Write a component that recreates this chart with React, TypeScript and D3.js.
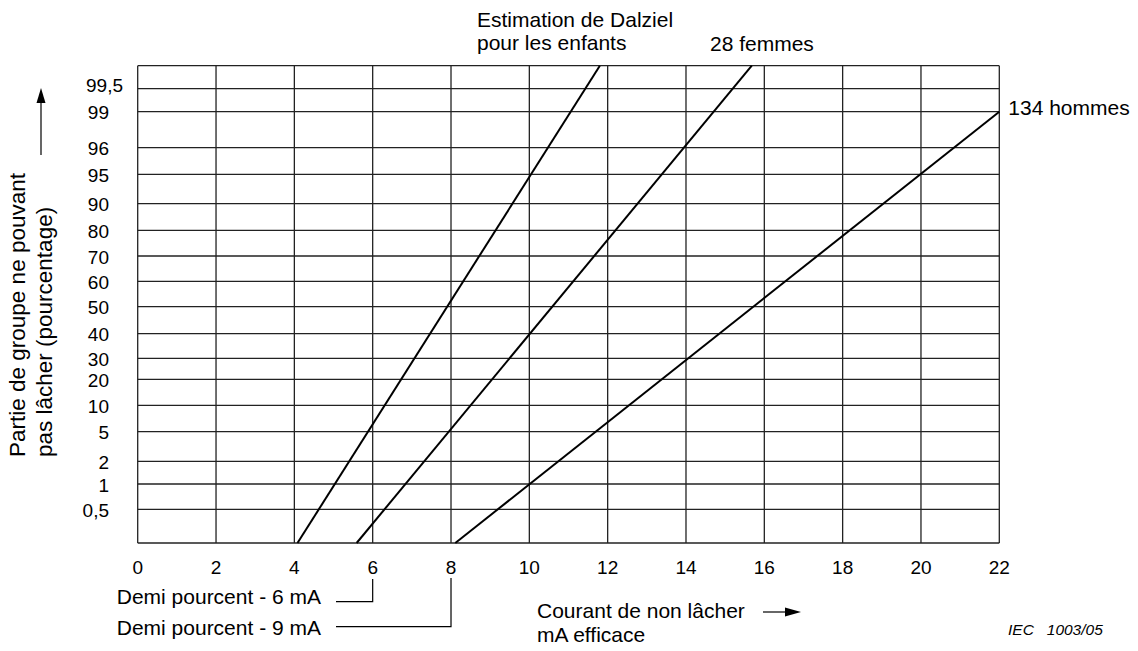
import * as d3 from "d3";

// Percent levels of the grid (probability paper rows) and the x ticks (mA)
const yLevels = [0.5, 1, 2, 5, 10, 20, 30, 40, 50, 60, 70, 80, 90, 95, 96, 99, 99.5];
const xTicks = [0, 2, 4, 6, 8, 10, 12, 14, 16, 18, 20, 22];

// Straight lines: current (mA) and level (%) at both ends. 0 / 100 = plot edges.
const seriesNames = ["Estimation de Dalziel pour les enfants", "28 femmes", "134 hommes"];
const startCurrent = [4.08, 5.59, 8.11];
const startLevel = [0, 0, 0];
const endCurrent = [11.8, 15.68, 22];
const endLevel = [100, 100, 99];

// Half-percent markers on the x axis
const halfPercentLabels = ["Demi pourcent - 6 mA", "Demi pourcent - 9 mA"];
const halfPercentCurrent = [6, 8];

const W = 1138;
const H = 651;
const plot = { left: 137.7, right: 999.3, top: 65.7, bottom: 543 };
// the rows of this chart paper are hand spaced, so the y scale is polylinear
const rowOffsets = [0, 33.7, 59, 81.7, 111.3, 137.7, 163.7, 184.7, 209.3, 236.3, 261.7, 287, 312.7, 339.3, 368.7, 395.3, 431.3, 454.3, 477.3];

const font = "'Liberation Sans', Arial, sans-serif";
const FS = 21; // annotations
const TS = 19; // tick labels

const locale = d3.formatLocale({ decimal: ",", thousands: " ", grouping: [3], currency: ["", ""] });
const fmt = (v: number) => locale.format("~g")(v);

export default function App() {
  const x = d3.scaleLinear().domain([0, 22]).range([plot.left, plot.right]);
  const y = d3
    .scaleLinear()
    .domain([0, ...yLevels, 100])
    .range(rowOffsets.map((o) => plot.bottom - o));

  const line = d3
    .line<[number, number]>()
    .x((d) => x(d[0]))
    .y((d) => y(d[1]));

  const grid = "#222";
  const leaderY = [601.7, 626.7];
  const leaderTop = [579, 578];
  const labelBase = [604, 635];

  return (
    <div style={{ position: "absolute", left: 0, top: 0 }}>
      <svg width={W} height={H} style={{ display: "block", background: "#fff" }} fontFamily={font}>
        {/* horizontal grid */}
        {[0, ...yLevels, 100].map((v) => (
          <line key={`h${v}`} x1={plot.left} x2={plot.right} y1={y(v)} y2={y(v)} stroke={grid} strokeWidth={1.3} />
        ))}
        {/* vertical grid */}
        {xTicks.map((t) => (
          <line key={`v${t}`} x1={x(t)} x2={x(t)} y1={plot.top} y2={plot.bottom} stroke={grid} strokeWidth={1.3} />
        ))}

        {/* y tick labels */}
        {yLevels.map((v) => {
          const label = fmt(v);
          const wide = label === "99,5";
          return (
            <text
              key={`yl${v}`}
              x={wide ? 86 : 109}
              y={y(v) + (wide ? -3 : 1)}
              textAnchor={wide ? "start" : "end"}
              dominantBaseline="central"
              fontSize={TS}
            >
              {label}
            </text>
          );
        })}

        {/* x tick labels */}
        {xTicks.map((t) => (
          <text key={`xl${t}`} x={x(t)} y={567} textAnchor="middle" dominantBaseline="central" fontSize={TS}>
            {t}
          </text>
        ))}

        {/* series lines */}
        {seriesNames.map((name, i) => (
          <path
            key={name}
            d={line([
              [startCurrent[i], startLevel[i]],
              [endCurrent[i], endLevel[i]],
            ]) || ""}
            fill="none"
            stroke="#000"
            strokeWidth={2}
          />
        ))}

        {/* series labels */}
        <text x={477} y={27} fontSize={FS}>Estimation de Dalziel</text>
        <text x={477} y={50} fontSize={FS}>pour les enfants</text>
        <text x={710} y={51} fontSize={FS}>{seriesNames[1]}</text>
        <text x={x(endCurrent[2]) + 9} y={y(endLevel[2]) + 3} fontSize={FS}>{seriesNames[2]}</text>

        {/* half percent markers */}
        {halfPercentLabels.map((label, i) => {
          const lx = x(halfPercentCurrent[i]);
          return (
            <g key={label}>
              <text x={321} y={labelBase[i]} textAnchor="end" fontSize={FS}>{label}</text>
              <path d={`M336,${leaderY[i]}H${lx}V${leaderTop[i]}`} fill="none" stroke="#000" strokeWidth={1.2} />
            </g>
          );
        })}

        {/* x axis title */}
        <text x={537} y={618} fontSize={FS}>Courant de non lâcher</text>
        <text x={537} y={642} fontSize={FS}>mA efficace</text>
        <line x1={763} x2={786} y1={612} y2={612} stroke="#000" strokeWidth={1.2} />
        <path d="M801,612L785,607.5L785,616.5Z" fill="#000" />

        {/* y axis title */}
        <g transform="translate(25,457) rotate(-90)">
          <text x={0} y={0} fontSize={22.5}>Partie de groupe ne pouvant</text>
          <text x={0} y={27} fontSize={22.5}>pas lâcher (pourcentage)</text>
        </g>
        <line x1={41} x2={41} y1={155} y2={100} stroke="#000" strokeWidth={1.2} />
        <path d="M41,88L36.5,103L45.5,103Z" fill="#000" />

        {/* figure reference */}
        <text x={1008} y={635} fontSize={15.5} fontStyle="italic" xmlSpace="preserve">
          IEC   1003/05
        </text>
      </svg>
    </div>
  );
}
